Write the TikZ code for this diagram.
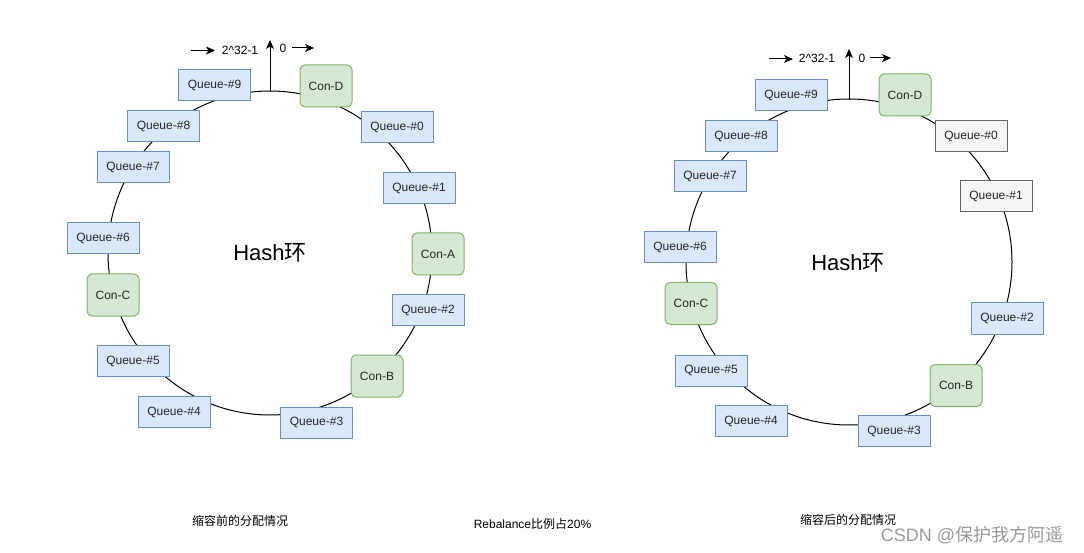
\documentclass[tikz,border=0pt]{standalone}
\usepackage{fontspec}
\setmainfont{Liberation Sans}
\newfontfamily\cjk{Noto Sans CJK SC}
\usetikzlibrary{arrows.meta,positioning}

\definecolor{qfill}{HTML}{DAE8FC}
\definecolor{qline}{HTML}{6C8EBF}
\definecolor{cfill}{HTML}{D5E8D4}
\definecolor{cline}{HTML}{82B366}
\definecolor{gfill}{HTML}{F5F5F5}
\definecolor{gline}{HTML}{666666}

\begin{document}
\begin{tikzpicture}[x=1pt,y=-1pt,font=\fontsize{12}{14}\selectfont]
  \useasboundingbox[fill=white] (0,0) rectangle (1084,553);
  \def\R{162pt}
  \def\Rr{163pt}
  \tikzset{ring/.style={draw=black,line width=1pt}}
  \tikzset{queue/.style={draw=qline,fill=qfill,line width=1pt,text=black!85,
      minimum width=72pt,minimum height=31pt,inner sep=0pt}}
  \tikzset{idle/.style={queue,draw=gline,fill=gfill}}
  \tikzset{cons/.style={draw=cline,fill=cfill,line width=1pt,rounded corners=5pt,
      text=black!85,minimum width=52pt,minimum height=42pt,inner sep=0pt}}
  \tikzset{ptr/.style={line width=1pt,-{Stealth[length=9pt,width=8pt,inset=2.5pt]}}}
  \tikzset{title/.style={font=\fontsize{22}{26}\selectfont}}

  % Left ring (before scale-in)
  \coordinate (lc) at (270,253);
  \draw[ring] (lc) circle[radius=\R];
  \node[title] (lhash) at (270,253) {Hash\cjk 环};

  \node[queue] (lq9) at (214.5,85.5) {Queue-\#9};
  \node[cons]  (lcd) at (326,86)     {Con-D};
  \node[queue] (lq0) at (397,127)    {Queue-\#0};
  \node[queue] (lq1) at (419,188)    {Queue-\#1};
  \node[cons]  (lca) at (438,254)    {Con-A};
  \node[queue] (lq2) at (428,310)    {Queue-\#2};
  \node[cons]  (lcb) at (377,376)    {Con-B};
  \node[queue] (lq3) at (316.5,422.5) {Queue-\#3};
  \node[queue] (lq4) at (174,412)    {Queue-\#4};
  \node[queue] (lq5) at (133,361)    {Queue-\#5};
  \node[cons]  (lcc) at (113,295)    {Con-C};
  \node[queue] (lq6) at (103,238.5)  {Queue-\#6};
  \node[queue] (lq7) at (133,167.5)  {Queue-\#7};
  \node[queue] (lq8) at (163.5,126.5) {Queue-\#8};

  % Left zero point
  \coordinate (ltop) at (270,91);
  \coordinate (lup)  at (270,40);
  \draw[ptr] (ltop) -- (lup);
  \node (lmax) at (240,50) {2\textasciicircum 32-1};
  \node (lzero) at (283,48) {0};
  \coordinate (la1) at (191,50.5);
  \coordinate (la2) at (215,50.5);
  \coordinate (lb1) at (292,48);
  \coordinate (lb2) at (314,48);
  \draw[ptr] (la1) -- (la2);
  \draw[ptr] (lb1) -- (lb2);

  % Right ring (after scale-in)
  \coordinate (rc) at (849,262);
  \draw[ring] (rc) circle[radius=\Rr];
  \node[title] (rhash) at (848,263) {Hash\cjk 环};

  \node[queue] (rq9) at (791,95)     {Queue-\#9};
  \node[cons]  (rcd) at (905,95)     {Con-D};
  \node[idle]  (rq0) at (971,136)    {Queue-\#0};
  \node[idle]  (rq1) at (996,196.5)  {Queue-\#1};
  \node[queue] (rq2) at (1007,318.5) {Queue-\#2};
  \node[cons]  (rcb) at (956,385.5)  {Con-B};
  \node[queue] (rq3) at (894,431)    {Queue-\#3};
  \node[queue] (rq4) at (751,421)    {Queue-\#4};
  \node[queue] (rq5) at (711,370.5)  {Queue-\#5};
  \node[cons]  (rcc) at (691,303.5)  {Con-C};
  \node[queue] (rq6) at (680,247.5)  {Queue-\#6};
  \node[queue] (rq7) at (710,176)    {Queue-\#7};
  \node[queue] (rq8) at (741,136)    {Queue-\#8};

  % Right zero point
  \coordinate (rtop) at (849,100);
  \coordinate (rup)  at (849,49);
  \draw[ptr] (rtop) -- (rup);
  \node (rmax) at (817,58) {2\textasciicircum 32-1};
  \node (rzero) at (862,58) {0};
  \coordinate (ra1) at (769,59);
  \coordinate (ra2) at (793,59);
  \coordinate (rb1) at (870,58);
  \coordinate (rb2) at (891,58);
  \draw[ptr] (ra1) -- (ra2);
  \draw[ptr] (rb1) -- (rb2);

  % Captions
  \node (cbefore) at (240,521) {\cjk 缩容前的分配情况};
  \node (crate)   at (532.5,524) {Rebalance\cjk 比例占\rmfamily 20\%};
  \node (cafter)  at (848,520) {\cjk 缩容后的分配情况};
  \node[text=black!40,font=\fontsize{18}{20}\selectfont] (wm) at (972,535)
    {CSDN @\cjk 保护我方阿遥};
\end{tikzpicture}
\end{document}
